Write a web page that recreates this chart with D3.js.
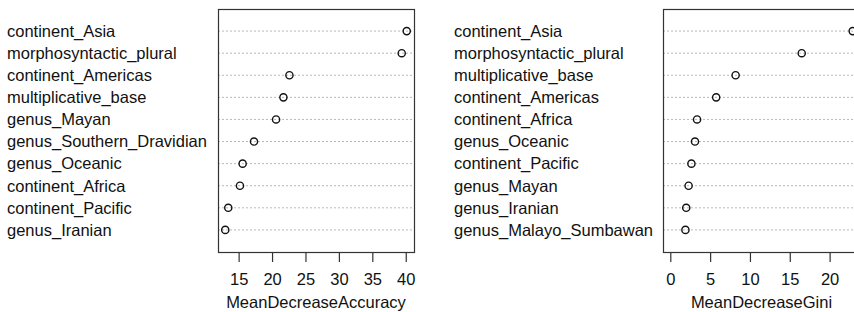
<!DOCTYPE html>
<html>
<head>
<meta charset="utf-8">
<script src="https://cdn.jsdelivr.net/npm/d3@7/dist/d3.min.js"></script>
<style>
  html, body { margin: 0; padding: 0; background: #fff; }
  svg { display: block; }
  text { font-family: "Liberation Sans", Arial, Helvetica, sans-serif; fill: #111; }
</style>
</head>
<body>
<svg id="chart" width="854" height="312"></svg>
<script>
// ---- Data (top to bottom, as drawn) ----
const accuracyLabels = ["continent_Asia", "morphosyntactic_plural", "continent_Americas", "multiplicative_base",
  "genus_Mayan", "genus_Southern_Dravidian", "genus_Oceanic", "continent_Africa", "continent_Pacific", "genus_Iranian"];
const accuracyValues = [40.15, 39.4, 22.6, 21.7, 20.6, 17.3, 15.6, 15.2, 13.45, 13.0];
const accuracyTicks = [15, 20, 25, 30, 35, 40];
const accuracyTitle = "MeanDecreaseAccuracy";

const giniLabels = ["continent_Asia", "morphosyntactic_plural", "multiplicative_base", "continent_Americas",
  "continent_Africa", "genus_Oceanic", "continent_Pacific", "genus_Mayan", "genus_Iranian", "genus_Malayo_Sumbawan"];
const giniValues = [22.9, 16.5, 8.2, 5.76, 3.36, 3.1, 2.65, 2.3, 2.0, 1.9];
const giniTicks = [0, 5, 10, 15, 20];
const giniTitle = "MeanDecreaseGini";

const svg = d3.select("#chart");
const FS = 16.5;

function panel(cfg) {
  const g = svg.append("g");
  const lo = cfg.xmin, hi = d3.max(cfg.values);
  const span = hi - lo;
  const x = d3.scaleLinear().domain([lo - 0.04 * span, hi + 0.04 * span]).range([cfg.left, cfg.right]);
  const y = d3.scalePoint().domain(cfg.labels).range([cfg.top, cfg.bottom]).padding(1);

  // dotted guide lines
  g.selectAll("line.guide").data(cfg.labels).join("line")
    .attr("class", "guide")
    .attr("x1", cfg.left).attr("x2", cfg.right)
    .attr("y1", d => y(d)).attr("y2", d => y(d))
    .attr("stroke", "#b8b8b8").attr("stroke-width", 1)
    .attr("stroke-dasharray", "2,2");

  // box
  g.append("rect")
    .attr("x", cfg.left + 0.5).attr("y", cfg.top + 0.5)
    .attr("width", cfg.right - cfg.left).attr("height", cfg.bottom - cfg.top)
    .attr("fill", "none").attr("stroke", "#333").attr("stroke-width", 1.2);

  // points
  g.selectAll("circle").data(cfg.values).join("circle")
    .attr("cx", d => x(d)).attr("cy", (d, i) => y(cfg.labels[i]))
    .attr("r", 3.6).attr("fill", "none").attr("stroke", "#111").attr("stroke-width", 1.4);

  // labels
  g.selectAll("text.lab").data(cfg.labels).join("text")
    .attr("class", "lab")
    .attr("x", cfg.labelX).attr("y", d => y(d)).attr("dy", "0.35em")
    .attr("font-size", FS).text(d => d);

  // axis
  const ax = g.append("g").attr("transform", `translate(0,${cfg.bottom})`)
    .call(d3.axisBottom(x).tickValues(cfg.ticks).tickSize(10).tickPadding(11).tickFormat(d3.format("d")));
  ax.select(".domain").remove();
  ax.selectAll(".tick line").attr("stroke", "#333").attr("stroke-width", 1.2);
  ax.selectAll(".tick text").attr("font-size", FS).attr("font-family", "Liberation Sans, Arial, sans-serif").attr("fill", "#111");

  g.append("text")
    .attr("x", (cfg.left + cfg.right) / 2).attr("y", 308)
    .attr("text-anchor", "middle").attr("font-size", FS).text(cfg.title);
}

panel({ labels: accuracyLabels, values: accuracyValues, ticks: accuracyTicks, title: accuracyTitle,
  xmin: d3.min(accuracyValues), left: 218, right: 414, top: 9, bottom: 252, labelX: 7 });
panel({ labels: giniLabels, values: giniValues, ticks: giniTicks, title: giniTitle,
  xmin: 0, left: 663, right: 860, top: 9, bottom: 252, labelX: 454 });
</script>
</body>
</html>
